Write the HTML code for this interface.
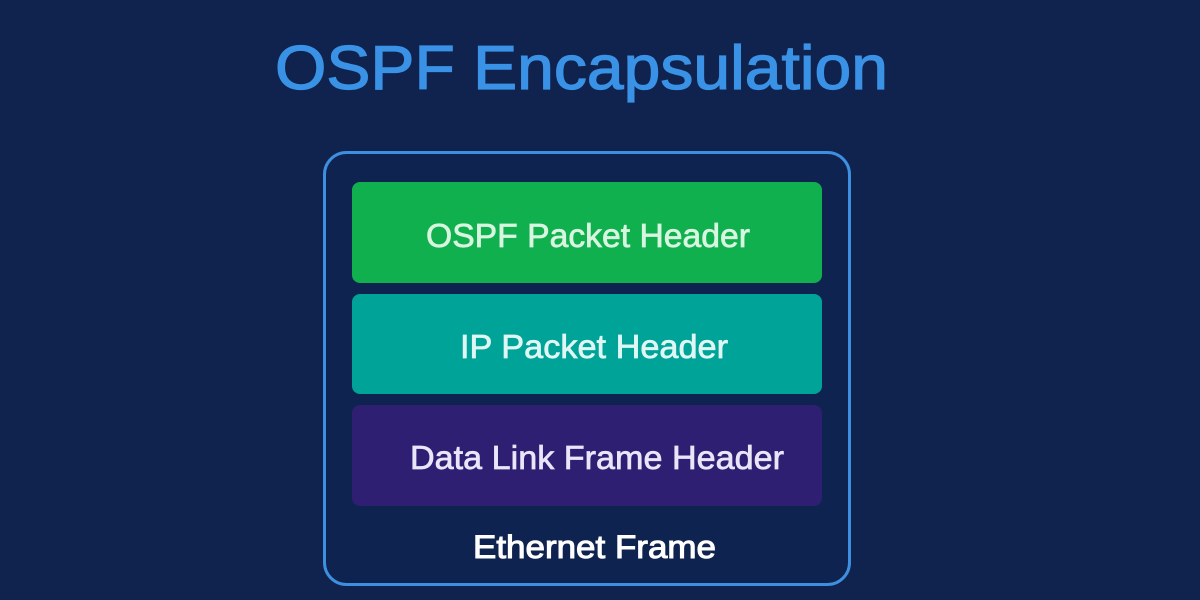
<!DOCTYPE html>
<html><head><meta charset="utf-8"><style>
html,body{margin:0;padding:0;background:#10234f;}
svg{display:block}
text{font-family:"Liberation Sans",sans-serif;}
</style></head><body>
<svg width="1200" height="600" viewBox="0 0 1200 600">
<rect width="1200" height="600" fill="#10234f"/>
<text x="275" y="89" font-size="62" fill="#3a92e6" stroke="#3a92e6" stroke-width="1.2" textLength="613" lengthAdjust="spacingAndGlyphs">OSPF Encapsulation</text>
<rect x="324.5" y="152.5" width="525" height="432" rx="22" fill="#0f2350" stroke="#3d8fe0" stroke-width="3"/>
<rect x="352" y="182" width="470" height="101" rx="8" fill="#10b04f"/>
<rect x="352" y="294" width="470" height="100" rx="8" fill="#00a398"/>
<rect x="352" y="405" width="470" height="101" rx="8" fill="#2e1f72"/>
<text x="426" y="247" font-size="33" fill="#d8f5e0" stroke="#d8f5e0" stroke-width="0.7" textLength="324" lengthAdjust="spacingAndGlyphs">OSPF Packet Header</text>
<text x="460" y="358" font-size="33" fill="#dff7f4" stroke="#dff7f4" stroke-width="0.7" textLength="268" lengthAdjust="spacingAndGlyphs">IP Packet Header</text>
<text x="410" y="469" font-size="33" fill="#e8e6f8" stroke="#e8e6f8" stroke-width="0.7" textLength="374" lengthAdjust="spacingAndGlyphs">Data Link Frame Header</text>
<text x="473" y="558" font-size="32" fill="#ffffff" stroke="#ffffff" stroke-width="1" textLength="243" lengthAdjust="spacingAndGlyphs">Ethernet Frame</text>
</svg>
</body></html>
